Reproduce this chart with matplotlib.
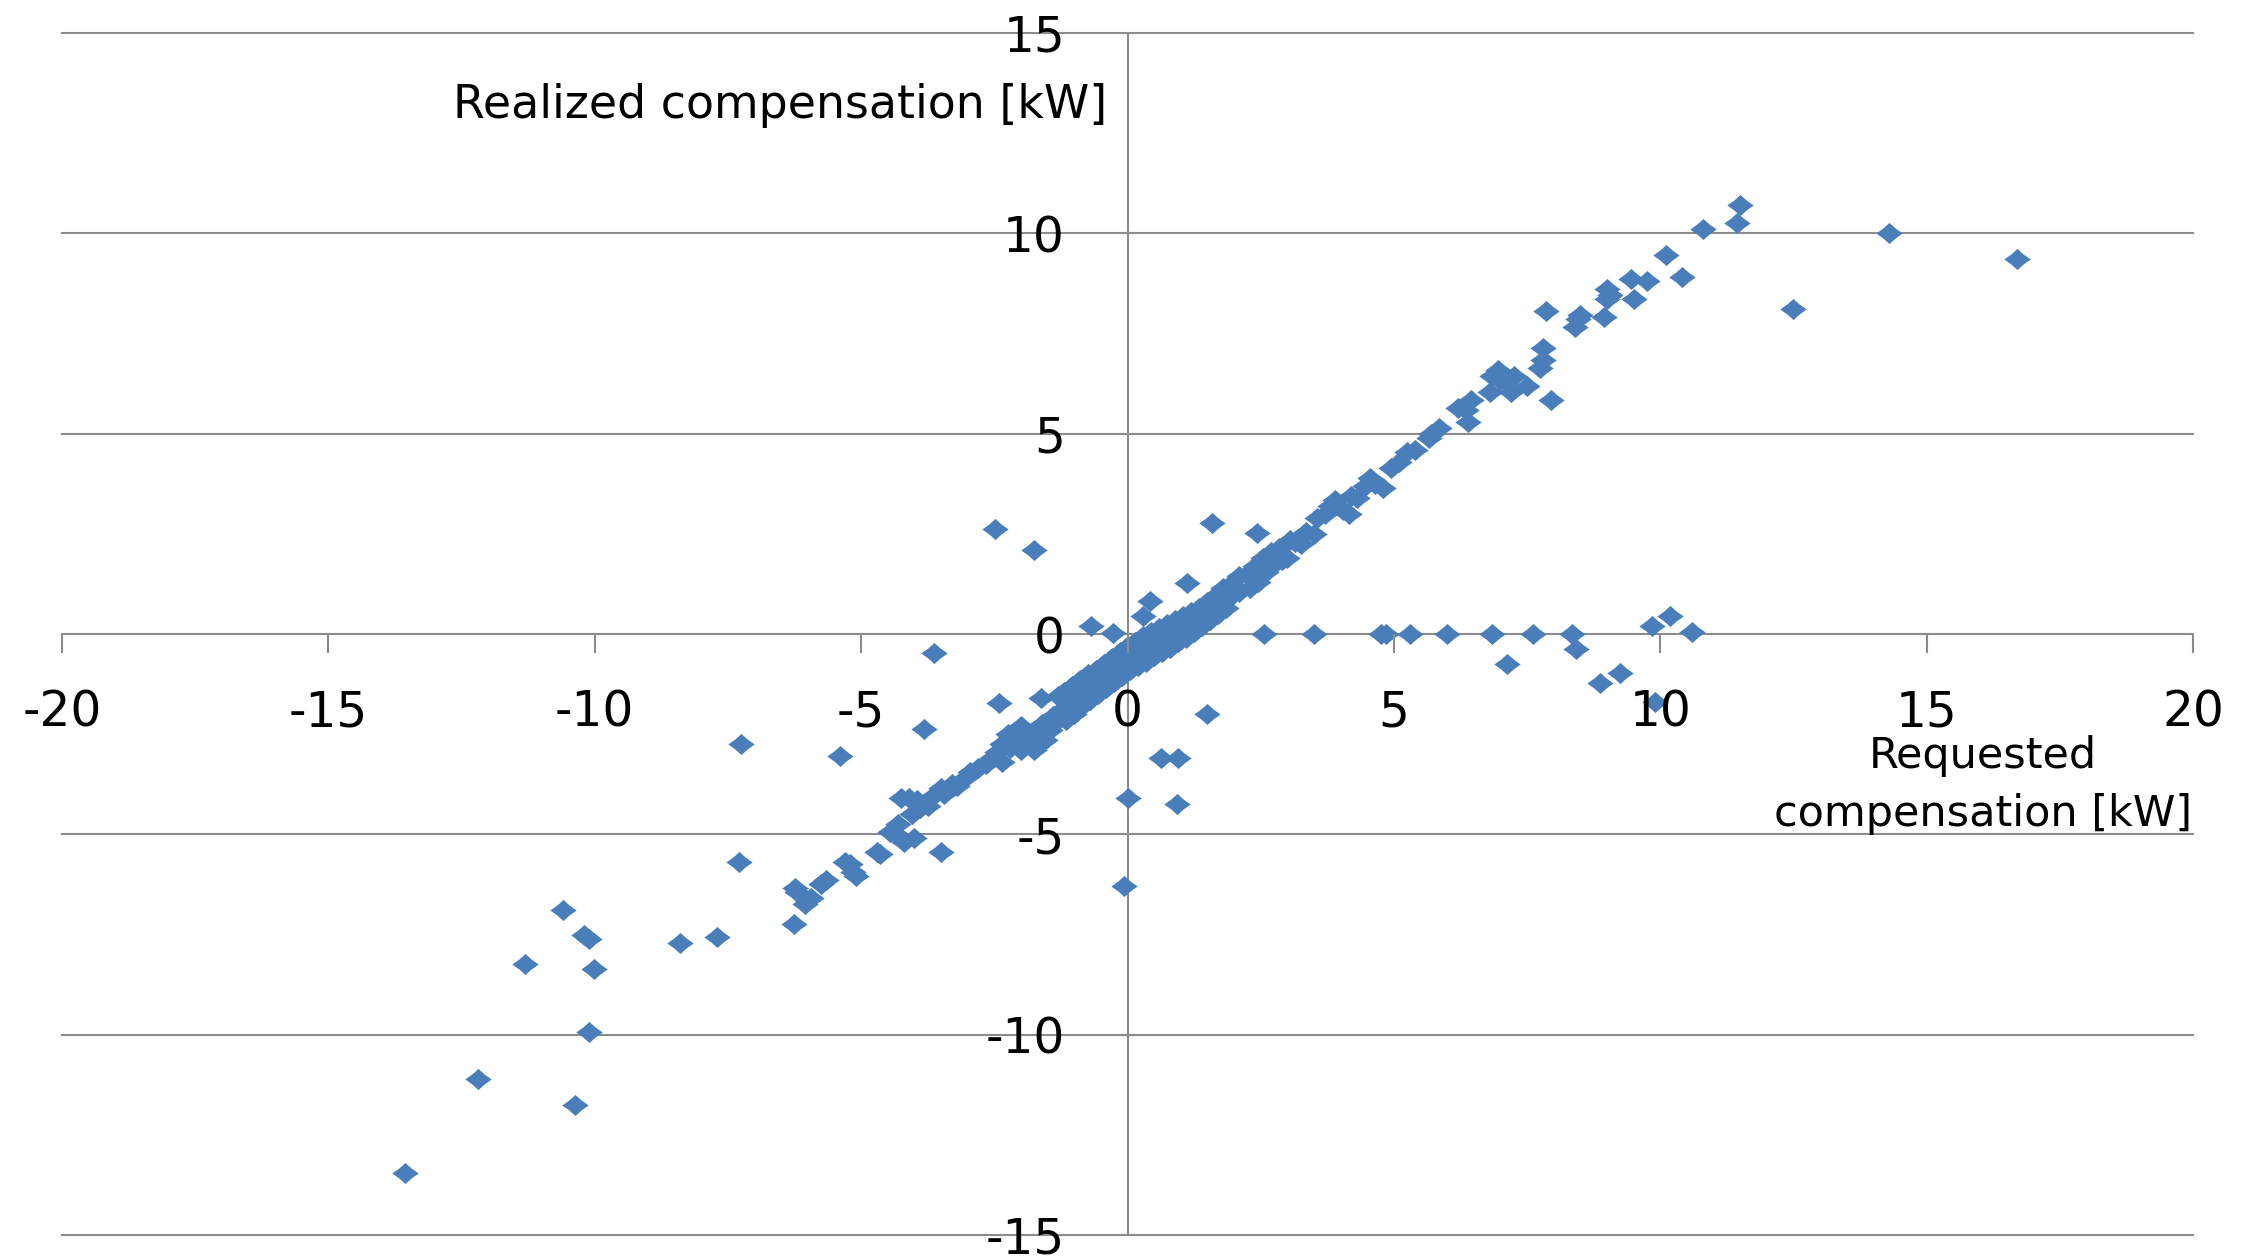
import matplotlib
matplotlib.use('Agg')
import matplotlib.pyplot as plt
from matplotlib.path import Path

plt.rcParams['axes.unicode_minus'] = False
plt.rcParams['font.family'] = ['DejaVu Sans']

# ---------------- data (requested kW, realized kW) ----------------
band_points = [
    (-6.26, -7.25), (-6.25, -6.35), (-6.2, -6.45), (-6.05, -6.75), (-5.95, -6.6),
    (-5.75, -6.25), (-5.65, -6.15), (-5.3, -5.7), (-5.2, -5.75), (-5.1, -6.05),
    (-5.15, -5.95), (-4.7, -5.45), (-4.65, -5.5), (-4.45, -4.95), (-4.35, -5.0),
    (-4.3, -4.75), (-4.2, -5.2), (-4.0, -5.1), (-4.25, -4.1), (-4.1, -4.1),
    (-3.95, -4.15), (-4.05, -4.5), (-3.9, -4.35), (-3.75, -4.3), (-3.65, -4.05),
    (-3.5, -3.85), (-3.45, -4.0), (-3.3, -3.75), (-3.2, -3.8), (-3.05, -3.6),
    (-2.95, -3.45), (-2.8, -3.35), (-2.65, -3.25), (-2.55, -3.1),
    (-2.45, -2.95), (-2.35, -2.75), (-2.35, -3.2), (-2.25, -2.5), (-2.2, -2.85),
    (-2.1, -2.65), (-2.0, -2.9), (-2.0, -2.3), (-1.95, -2.45), (-1.85, -2.75),
    (-1.8, -2.5), (-1.75, -2.9), (-1.6, -2.25), (-1.55, -2.65), (-1.45, -2.4),
    (-1.4, -2.05), (-1.3, -1.55), (-1.3, -2.15),
    (-1.2, -1.45), (-1.2, -1.85), (-1.15, -2.15),
    (-1.05, -1.3), (-1.05, -1.7), (-1.0, -2.0),
    (-0.9, -1.15), (-0.9, -1.55), (-0.85, -1.8),
    (-0.75, -1.0), (-0.75, -1.4), (-0.7, -1.65),
    (-0.6, -0.9), (-0.6, -1.25), (-0.55, -1.5),
    (-0.45, -0.75), (-0.45, -1.1), (-0.4, -1.35),
    (-0.3, -0.6), (-0.3, -0.95), (-0.25, -1.2),
    (-0.15, -0.45), (-0.15, -0.8), (-0.1, -1.05),
    (0.0, -0.3), (0.0, -0.65), (0.05, -0.9),
    (0.15, -0.2), (0.15, -0.5), (0.2, -0.8),
    (0.3, -0.05), (0.3, -0.4), (0.35, -0.7),
    (0.45, 0.05), (0.45, -0.3), (0.5, -0.55),
    (0.6, 0.15), (0.6, -0.2), (0.65, -0.45),
    (0.75, 0.25), (0.75, -0.05), (0.8, -0.35),
    (0.9, 0.35), (0.9, 0.05), (0.95, -0.2),
    (1.05, 0.45), (1.05, 0.15), (1.1, -0.1),
    (1.2, 0.55), (1.2, 0.25), (1.25, 0.05),
    (1.35, 0.65), (1.35, 0.4), (1.4, 0.2),
    (1.5, 0.8), (1.5, 0.5), (1.55, 0.35),
    (1.65, 0.95), (1.65, 0.65), (1.7, 0.5),
    (1.8, 1.15), (1.8, 0.8), (1.85, 0.65),
    (1.95, 1.25), (1.95, 0.95), (2.1, 1.45), (2.1, 1.05),
    (2.25, 1.5), (2.3, 1.15), (2.4, 1.7), (2.45, 1.3),
    (2.55, 1.9), (2.6, 1.55), (2.7, 2.05), (2.75, 1.75),
    (2.85, 2.15), (2.9, 1.85), (3.0, 1.9), (3.05, 2.35),
    (3.15, 2.3), (3.25, 2.25), (3.35, 2.55),
    (3.5, 2.5), (3.55, 2.9), (3.7, 3.0), (3.8, 3.2), (3.9, 3.35),
    (3.95, 3.2), (4.05, 3.1), (4.15, 3.0), (4.2, 3.45), (4.3, 3.4),
    (4.45, 3.7), (4.55, 3.9), (4.65, 3.75), (4.8, 3.65), (4.95, 4.15),
    (5.1, 4.3), (5.25, 4.55), (5.4, 4.6), (5.65, 4.9), (5.7, 5.0),
    (5.85, 5.15), (6.2, 5.65), (6.35, 5.6), (6.4, 5.3), (6.45, 5.85),
    (6.8, 6.05), (6.85, 6.45), (6.95, 6.6), (7.0, 6.35), (7.1, 6.3),
    (7.2, 6.05), (7.25, 6.45), (7.5, 6.2), (7.75, 6.65), (7.8, 6.85),
    (7.8, 7.15), (7.95, 5.85), (7.85, 8.05), (8.4, 7.65), (8.45, 7.85),
    (8.5, 7.95), (8.95, 7.9), (9.0, 8.35), (9.0, 8.6), (9.05, 8.45),
    (9.5, 8.35), (9.45, 8.85), (9.75, 8.8), (10.1, 9.45), (10.4, 8.9),
    (10.8, 10.1), (11.45, 10.25), (11.5, 10.7), (12.5, 8.1), (14.3, 10.0),
    (16.7, 9.35),
]

zero_row_points = [
    (2.56, 0.0), (3.5, 0.0), (4.75, 0.0), (4.85, 0.0), (5.3, 0.0), (6.0, 0.0),
    (6.84, 0.0), (7.62, 0.0), (8.34, 0.0), (8.41, -0.38), (7.12, -0.76),
    (8.87, -1.22), (9.25, -0.97), (9.84, 0.2), (10.19, 0.45), (10.6, 0.04),
    (9.9, -1.7),
]

outlier_points = [
    (-13.56, -13.45), (-12.2, -11.1), (-10.37, -11.75), (-10.1, -9.93),
    (-11.3, -8.23), (-10.02, -8.37), (-10.2, -7.5), (-10.1, -7.6),
    (-10.6, -6.9), (-8.4, -7.7), (-7.7, -7.55), (-7.3, -5.7), (-7.26, -2.75),
    (-5.4, -3.05), (-3.5, -5.45), (-3.64, -0.47), (-3.82, -2.38),
    (-2.42, -1.72), (-1.63, -1.59), (-2.48, 2.63), (-1.76, 2.1),
    (-0.69, 0.2), (-0.28, 0.03), (0.3, 0.45), (0.43, 0.83), (1.12, 1.27),
    (1.59, 2.78), (2.43, 2.53), (0.0, -4.1), (-0.07, -6.3), (0.62, -3.1),
    (0.95, -3.1), (0.92, -4.25), (1.5, -2.0),
]

x_ticks = [-20, -15, -10, -5, 0, 5, 10, 15, 20]
y_ticks = [-15, -10, -5, 0, 5, 10, 15]
x_label_lines = ["Requested", "compensation [kW]"]
y_label = "Realized compensation [kW]"

# ---------------- figure ----------------
W, H, DPI = 2252, 1256, 100
fig = plt.figure(figsize=(W / DPI, H / DPI), dpi=DPI)
ax = fig.add_axes([62 / W, 1 - 1235 / H, (2193 - 62) / W, (1235 - 33) / H])

ax.set_xlim(-20, 20)
ax.set_ylim(-15, 15)

grid_col = '#8c8c8c'
for yv in y_ticks:
    if yv != 0:
        ax.axhline(yv, color=grid_col, lw=1.5, zorder=0.5, clip_on=False)

for side in ('top', 'right'):
    ax.spines[side].set_visible(False)
ax.spines['left'].set_position(('data', 0))
ax.spines['bottom'].set_position(('data', 0))
for side in ('left', 'bottom'):
    ax.spines[side].set_color(grid_col)
    ax.spines[side].set_linewidth(1.5)
    ax.spines[side].set_zorder(0.6)

ax.set_xticks(x_ticks)
ax.set_yticks(y_ticks)
ax.set_xticklabels([str(v) for v in x_ticks])
ax.set_yticklabels([str(v) for v in y_ticks])
ax.tick_params(axis='x', direction='out', length=13.5, width=1.5,
               color=grid_col, pad=26, labelsize=35, labelcolor='black')
ax.tick_params(axis='y', length=0, pad=45, labelsize=35, labelcolor='black')
ax.xaxis.set_zorder(3)
ax.yaxis.set_zorder(3)
ax.patch.set_visible(False)

# marker: slightly pinched diamond, wider than tall
k, h = 0.47, 0.8
verts = [(1, 0), (k, k * h), (0, h), (-k, k * h), (-1, 0),
         (-k, -k * h), (0, -h), (k, -k * h), (1, 0)]
codes = [Path.MOVETO] + [Path.LINETO] * 7 + [Path.CLOSEPOLY]
diamond = Path(verts, codes)

all_pts = band_points + zero_row_points + outlier_points
xs = [p[0] for p in all_pts]
ys = [p[1] for p in all_pts]
ax.plot(xs, ys, linestyle='none', marker=diamond, markersize=19,
        color='#4a7ebb', markeredgewidth=0, zorder=2, clip_on=False)

ax.text(-0.375, 13.2, y_label, ha='right', va='center', fontsize=33,
        color='black', zorder=4)
ax.text(16.05, -3.05, x_label_lines[0], ha='center', va='center',
        fontsize=31, color='black', zorder=4)
ax.text(16.05, -4.5, x_label_lines[1], ha='center', va='center',
        fontsize=31, color='black', zorder=4)

fig.savefig('out.png', dpi=DPI)
